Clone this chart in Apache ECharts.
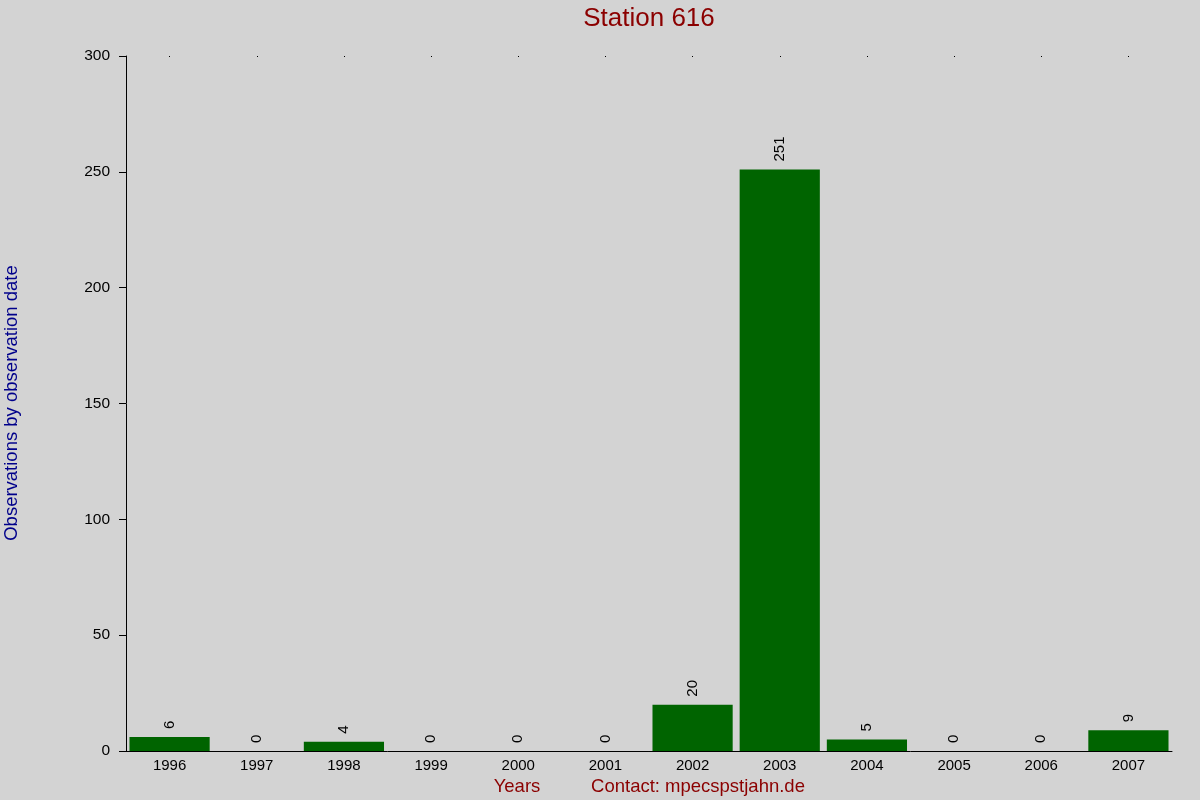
<!DOCTYPE html>
<html><head><meta charset="utf-8">
<script src="https://cdn.jsdelivr.net/npm/echarts@6/dist/echarts.min.js"></script>
<style>html,body{margin:0;padding:0;background:#d3d3d3}#c{width:1200px;height:800px}</style>
</head><body><div id="c"></div>
<script>
const years = ['1996','1997','1998','1999','2000','2001','2002','2003','2004','2005','2006','2007'];
const observations = [6,0,4,0,0,0,20,251,5,0,0,9];
const yTicks = {min:0, max:300, interval:50};

const chart = echarts.init(document.getElementById('c'));
chart.setOption({
  backgroundColor:'#d3d3d3',
  animation:false,
  grid:{left:126, right:28, top:56, bottom:49},
  graphic:[
    {type:'text', x:649, y:6, style:{text:'Station 616', fill:'#8b0000', font:'26px "Liberation Sans"', textAlign:'center', textVerticalAlign:'top'}},
    {type:'text', x:517, y:777, style:{text:'Years', fill:'#8b0000', font:'18.5px "Liberation Sans"', textAlign:'center', textVerticalAlign:'top'}},
    {type:'text', x:698, y:777, style:{text:'Contact: mpecspstjahn.de', fill:'#8b0000', font:'18.5px "Liberation Sans"', textAlign:'center', textVerticalAlign:'top'}},
    {type:'text', rotation:Math.PI/2, x:2, y:403, style:{text:'Observations by observation date', fill:'#00008b', font:'18.5px "Liberation Sans"', textAlign:'center', textVerticalAlign:'top'}}
  ],
  xAxis:[{
    type:'category', data:years,
    axisLine:{lineStyle:{color:'#000', width:1}},
    axisTick:{show:false},
    axisLabel:{color:'#000', fontSize:15, fontFamily:'Liberation Sans', margin:7}
  },{
    type:'category', data:years, position:'top',
    axisLine:{show:false}, axisLabel:{show:false},
    axisTick:{show:true, alignWithLabel:true, length:1, inside:true, lineStyle:{color:'#000'}}
  }],
  yAxis:{
    type:'value', min:yTicks.min, max:yTicks.max, interval:yTicks.interval,
    splitLine:{show:false},
    axisLine:{show:true, lineStyle:{color:'#000'}},
    axisTick:{show:true, length:7, lineStyle:{color:'#000'}},
    axisLabel:{color:'#000', fontSize:15.5, fontFamily:'Liberation Sans', margin:16}
  },
  series:[{
    type:'bar', data:observations, barCategoryGap:'8%',
    itemStyle:{color:'#006400'},
    label:{show:true, position:'top', rotate:90, align:'left', verticalAlign:'middle', distance:8,
      color:'#000', fontSize:15, fontFamily:'Liberation Sans'}
  }]
});
</script></body></html>
